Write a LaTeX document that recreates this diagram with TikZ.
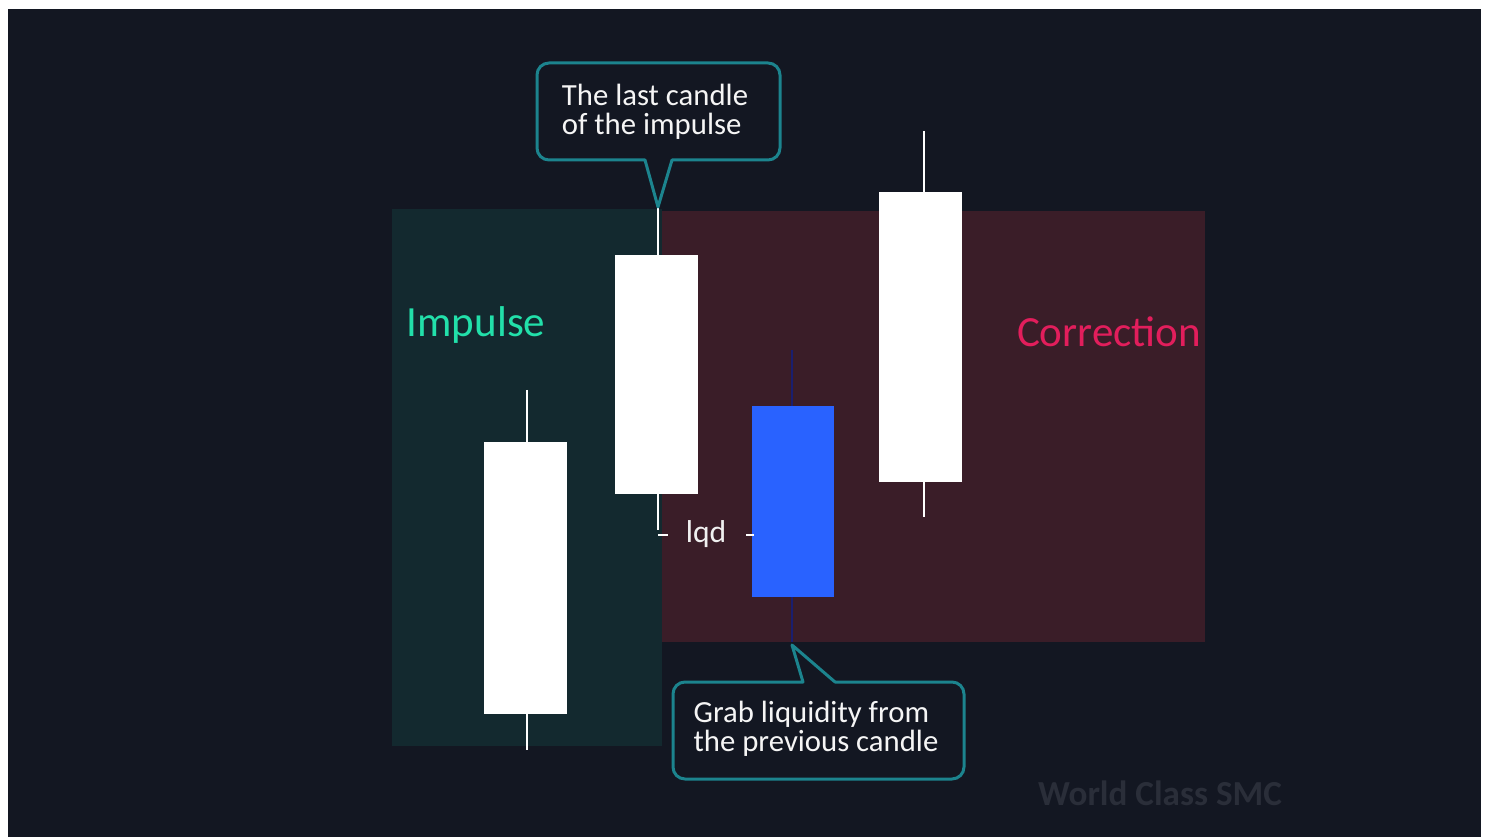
\documentclass[tikz,border=0pt]{standalone}
\usepackage{fontspec}
\setmainfont{Carlito}
\definecolor{bgdark}{RGB}{19,23,34}
\definecolor{impzone}{RGB}{19,41,47}
\definecolor{corzone}{RGB}{58,29,40}
\definecolor{impgreen}{RGB}{34,224,170}
\definecolor{corred}{RGB}{226,30,92}
\definecolor{callcol}{RGB}{28,132,142}
\definecolor{candleblue}{RGB}{41,98,255}
\definecolor{wicknavy}{RGB}{26,30,110}
\definecolor{wmgrey}{RGB}{42,46,57}
\begin{document}
\begin{tikzpicture}[x=0.02cm,y=-0.02cm,
      wick/.style={line width=0.04cm,white},
      callout/.style={draw=callcol,line width=0.06cm,fill=bgdark,line join=round},
      calltext/.style={text=white!92!gray,align=left,inner sep=0pt,
        font=\fontsize{17.5}{16.8}\selectfont}]
      \fill[white] (0,0) rectangle (1487,837);
      \useasboundingbox (0,0) rectangle (1487,837);
      \fill[bgdark] (8,9) rectangle (1481,837);
      % zones
      \fill[impzone] (392,209) rectangle (662,746);
      \fill[corzone] (662,211) rectangle (1205,642);
      % candles
      \draw[wick] (527,390)--(527,750);
      \fill[white] (484,442) rectangle (567,714);
      \draw[wick] (658,207)--(658,530);
      \fill[white] (615,255) rectangle (698,494);
      \draw[wicknavy,line width=0.04cm] (792,350)--(792,642);
      \fill[candleblue] (752,406) rectangle (834,597);
      \draw[wick] (924,131)--(924,517);
      \fill[white] (879,192) rectangle (962,482);
      % lqd marks
      \draw[white,line width=0.04cm] (658,535)--(668,535);
      \draw[white,line width=0.04cm] (746,535)--(754,535);
      \node[text=white!88!gray,font=\fontsize{18}{18}\selectfont,anchor=base] (lqd) at (706,542) {lqd};
      % callouts
      \draw[callout] (645,160) -- (658,207) -- (672,160) [rounded corners=0.24cm] -- (780,160)
        -- (780,63) -- (537,63) -- (537,160) [sharp corners] -- cycle;
      \node[calltext] (lastc) at (655,112) {The last candle\\of the impulse};
      \draw[callout] (835,682) -- (792,645) -- (803,682) [rounded corners=0.24cm] -- (673,682)
        -- (673,779) -- (964,779) -- (964,682) [sharp corners] -- cycle;
      \node[calltext] (grab) at (816,729) {Grab liquidity from\\the previous candle};
      % labels
      \node[text=impgreen,font=\fontsize{24.5}{24.5}\selectfont,anchor=base] (imp) at (476,337) {Impulse};
      \node[text=corred,font=\fontsize{24.5}{24.5}\selectfont,anchor=base] (corr) at (1109,347) {Correction};
      \node[text=wmgrey,font=\bfseries\fontsize{20}{20}\selectfont,anchor=base] (wm) at (1160,805) {World Class SMC};
     \end{tikzpicture}
\end{document}
